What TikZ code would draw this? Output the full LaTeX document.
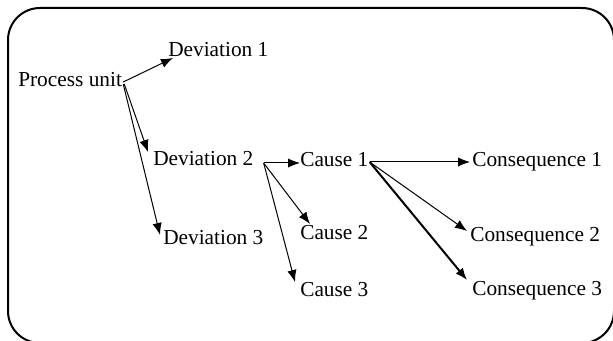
\documentclass[tikz,border=0pt]{standalone}
\usepackage{fontspec}
\setmainfont{Liberation Serif}
\usepackage{tikz}
\usetikzlibrary{calc,arrows.meta}
\tikzset{
	lbl/.style={inner sep=0, anchor=base west, font=\fontsize{16}{19}\selectfont},
	arr/.style={line width=0.75pt, -{Latex[length=9pt, width=7pt]}},
	thickarr/.style={arr, line width=1.5pt}
}

\begin{document}
\begin{tikzpicture}[x=0.75pt, y=-0.75pt]
		%%%%% START %%%%%
		\useasboundingbox (0, 0) rectangle (613, 341);
		
		\draw[line width=1.5pt, rounded corners=24pt] (8, 8) rectangle (614, 343);
		
		\node[lbl] (pu) at (18, 87) {Process unit};
		
		\node[lbl] (dev1) at (168, 57) {Deviation 1};
		\node[lbl] (dev2) at (153, 166) {Deviation 2};
		\node[lbl] (dev3) at (163, 245) {Deviation 3};
		
		\node[lbl] (cause1) at (300, 167) {Cause 1};
		\node[lbl] (cause2) at (300, 240) {Cause 2};
		\node[lbl] (cause3) at (300, 297) {Cause 3};
		
		\node[lbl] (cons1) at (472, 167) {Consequence 1};
		\node[lbl] (cons2) at (470, 242) {Consequence 2};
		\node[lbl] (cons3) at (472, 296) {Consequence 3};
		
		\draw[arr] ($(pu.base east)+(1, -5)$) -- ($(dev1.base west)+(5, 1)$);
		\draw[arr] ($(pu.base east)+(2, -3)$) -- ($(dev2.base west)+(-5, -14)$);
		\draw[arr] ($(pu.base east)+(1, -3)$) -- ($(dev3.base west)+(-3, -10)$);
		
		\draw[arr] ($(dev2.base east)+(10, -3)$) -- ($(cause1.base west)+(0, -4)$);
		\draw[arr] ($(dev2.base east)+(10, -3)$) -- ($(cause2.base west)+(10, -16)$);
		\draw[arr] ($(dev2.base east)+(10, -3)$) -- ($(cause3.base west)+(-5, -15)$);
		
		\draw[arr] ($(cause1.base east)+(1, -5)$) -- ($(cons1.base west)+(-2, -5)$);
		\draw[arr] ($(cause1.base east)+(1, -5)$) -- ($(cons2.base west)+(-3, -11)$);
		\draw[thickarr] ($(cause1.base east)+(1, -5)$) -- ($(cons3.base west)+(-5, -16)$);
		
		%%%%% END %%%%%
	\end{tikzpicture}
\end{document}
